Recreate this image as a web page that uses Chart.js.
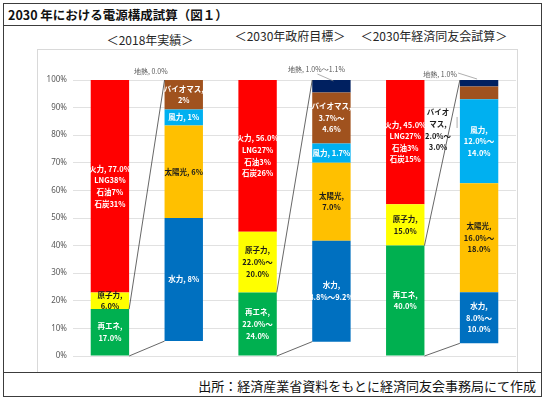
<!DOCTYPE html>
<html>
<head>
<meta charset="utf-8">
<script src="https://cdn.jsdelivr.net/npm/chart.js@4.4.1/dist/chart.umd.min.js"></script>
<style>
  body { margin: 0; background: #fff; font-family: "Noto Sans CJK JP", sans-serif; }
  #page { position: relative; width: 545px; height: 399px; overflow: hidden; background: #fff; }
  .abs { position: absolute; box-sizing: border-box; }
  #frame { left: 3px; top: 3px; width: 539px; height: 394px; border: 1.5px solid #3c3c3c; }
  #titleLine { left: 3px; top: 25px; width: 539px; height: 0; border-top: 1.5px solid #3c3c3c; }
  #footLine { left: 3px; top: 372px; width: 539px; height: 0; border-top: 1.5px solid #3c3c3c; }
  #inner { left: 37px; top: 49px; width: 481px; height: 323px; border: 1px solid #d9d9d9; border-bottom: none; }
  #title { left: 8px; top: 5px; font-size: 12.5px; font-weight: bold; color: #111; white-space: nowrap; }
  .sub { font-size: 12px; color: #262626; white-space: nowrap; transform: translateX(-50%); }
  #foot { right: 9px; top: 376px; font-size: 13px; color: #111; white-space: nowrap; }
  canvas { position: absolute; left: 0; top: 0; }
</style>
</head>
<body>
<div id="page">
  <div class="abs" id="frame"></div>
  <div class="abs" id="titleLine"></div>
  <div class="abs" id="footLine"></div>
  <div class="abs" id="inner"></div>
  <div class="abs" id="title">2030 年における電源構成試算（図１）</div>
  <div class="abs sub" style="left:150px;top:31px;">＜2018年実績＞</div>
  <div class="abs sub" style="left:290px;top:27px;">＜2030年政府目標＞</div>
  <div class="abs sub" style="left:434px;top:27px;">＜2030年経済同友会試算＞</div>
  <div class="abs" id="foot">出所：経済産業省資料をもとに経済同友会事務局にて作成</div>
  <canvas id="chart" width="545" height="399"></canvas>
</div>
<script>
// six columns: main mix bar, then its renewables breakdown bar, for each scenario
const categories = ['2018年実績', '2018年 再エネ内訳', '2030年政府目標', '2030年 再エネ内訳', '2030年経済同友会試算', '2030年 再エネ内訳'];

// main bars (% of generation)
const renew   = [17, null, 23, null, 40, null];
const nuclear = [6, null, 22, null, 15, null];
const thermal = [77, null, 55, null, 45, null];

// breakdown bars, heights as drawn on the 0-100 axis (offset + segments)
const offset  = [null, 5.4, null, 5.2, null, 4.6];
const hydro   = [null, 44.6, null, 36.6, null, 18.5];
const solar   = [null, 33.5, null, 28.2, null, 39.5];
const wind    = [null, 5.8, null, 7.0, null, 30.4];
const biomass = [null, 10.7, null, 18.5, null, 4.6];
const geo     = [null, 0, null, 4.5, null, 2.4];

const yTicks = [0, 10, 20, 30, 40, 50, 60, 70, 80, 90, 100];

// segment label texts
const renewText   = [['再エネ,', '17.0%'], null, ['再エネ,', '22.0%～', '24.0%'], null, ['再エネ,', '40.0%'], null];
const nuclearText = [['原子力,', '6.0%'], null, ['原子力,', '22.0%～', '20.0%'], null, ['原子力,', '15.0%'], null];
const thermalText = [['火力, 77.0%', 'LNG38%', '石油7%', '石炭31%'], null, ['火力, 56.0%', 'LNG27%', '石油3%', '石炭26%'], null, ['火力, 45.0%', 'LNG27%', '石油3%', '石炭15%'], null];
const hydroText   = [null, ['水力, 8%'], null, ['水力,', '8.8%～9.2%'], null, ['水力,', '8.0%～', '10.0%']];
const solarText   = [null, ['太陽光, 6%'], null, ['太陽光,', '7.0%'], null, ['太陽光,', '16.0%～', '18.0%']];
const windText    = [null, ['風力, 1%'], null, ['風力, 1.7%'], null, ['風力,', '12.0%～', '14.0%']];
const biomassText = [null, ['バイオマス,', '2%'], null, ['バイオマス,', '3.7%～', '4.6%'], null, ['バイオ', 'マス,', '2.0%～', '3.0%']];
const geoText     = [null, ['地熱, 0.0%'], null, ['地熱, 1.0%～1.1%'], null, ['地熱, 1.0%']];

// labels drawn outside their segment: offsets from the segment centre / top, and leader lines
const outside = {
  '地熱': {
    1: { dx: -33, fromTop: -9, color: '#595959', font: '7px' },
    3: { dx: -15, fromTop: -11, color: '#595959', font: '7px', leader: [[-14, -6], [2, 1]] },
    5: { dx: -39, fromTop: -6, color: '#595959', font: '7px', leader: [[-21, -7], [-2, -1]] }
  },
  'バイオマス': {
    5: { dx: -41, dy: 37, color: '#1a1a1a', leaderMid: [[-22, 24], [-22, 35]] }
  }
};

const segLabels = {
  id: 'segLabels',
  afterDatasetsDraw(chart) {
    const ctx = chart.ctx;
    const metas = chart.data.datasets.map((d, i) => chart.getDatasetMeta(i));
    const byLabel = {};
    chart.data.datasets.forEach((d, i) => byLabel[d.label] = metas[i]);
    const yScale = chart.scales.y;

    // connector lines from the renewables part of each main bar to its breakdown bar
    ctx.save();
    ctx.strokeStyle = '#404040';
    ctx.lineWidth = 0.8;
    [0, 2, 4].forEach(i => {
      const g = byLabel['再エネ'].data[i];
      const off = byLabel['offset'].data[i + 1];
      const top = byLabel['地熱'].data[i + 1];
      const gx = g.x + g.width / 2, bx = off.x - off.width / 2;
      ctx.beginPath();
      ctx.moveTo(gx, g.y); ctx.lineTo(bx, top.y);
      ctx.moveTo(gx, yScale.getPixelForValue(0)); ctx.lineTo(bx, off.y);
      ctx.stroke();
    });
    ctx.restore();

    chart.data.datasets.forEach((ds, di) => {
      if (!ds.texts) return;
      metas[di].data.forEach((el, j) => {
        const lines = ds.texts[j];
        if (!lines) return;
        const o = (outside[ds.label] || {})[j];
        let cx = el.x, cy = (el.y + el.base) / 2, color = ds.textColor, size = '7.5px';
        if (o) {
          cx = el.x + o.dx;
          cy = o.fromTop !== undefined ? el.y + o.fromTop : cy + o.dy;
          color = o.color;
          if (o.font) size = o.font;
          ctx.save();
          ctx.strokeStyle = '#8c8c8c';
          ctx.lineWidth = 0.7;
          if (o.leader) {
            ctx.beginPath();
            ctx.moveTo(el.x + o.leader[0][0], el.y + o.leader[0][1]);
            ctx.lineTo(el.x + o.leader[1][0], el.y + o.leader[1][1]);
            ctx.stroke();
          }
          if (o.leaderMid) {
            const my = (el.y + el.base) / 2;
            ctx.beginPath();
            ctx.moveTo(el.x + o.leaderMid[0][0], my + o.leaderMid[0][1]);
            ctx.lineTo(el.x + o.leaderMid[1][0], my + o.leaderMid[1][1]);
            ctx.stroke();
          }
          ctx.restore();
        }
        ctx.save();
        ctx.fillStyle = color;
        ctx.font = (o && o.font ? '' : 'bold ') + size + ' "Noto Sans CJK JP", sans-serif';
        ctx.textAlign = 'center';
        ctx.textBaseline = 'middle';
        const lh = 11.6;
        lines.forEach((t, k) => ctx.fillText(t, cx, cy + (k - (lines.length - 1) / 2) * lh));
        ctx.restore();
      });
    });
  }
};

const ds = (label, data, color, texts, textColor) => ({ label, data, backgroundColor: color, texts, textColor, borderWidth: 0 });

new Chart(document.getElementById('chart'), {
  type: 'bar',
  data: {
    labels: categories,
    datasets: [
      ds('offset', offset, 'rgba(0,0,0,0)', null, null),
      ds('再エネ', renew, '#00B050', renewText, '#ffffff'),
      ds('原子力', nuclear, '#FFFF00', nuclearText, '#1a1a1a'),
      ds('火力', thermal, '#FF0000', thermalText, '#ffffff'),
      ds('水力', hydro, '#0070C0', hydroText, '#ffffff'),
      ds('太陽光', solar, '#FFC000', solarText, '#1a1a1a'),
      ds('風力', wind, '#00B0F0', windText, '#ffffff'),
      ds('バイオマス', biomass, '#A0521E', biomassText, '#ffffff'),
      ds('地熱', geo, '#002060', geoText, '#ffffff')
    ]
  },
  options: {
    responsive: false,
    animation: false,
    barPercentage: 0.52,
    categoryPercentage: 1,
    layout: { padding: { top: 80, bottom: 43, left: 0, right: 29 } },
    plugins: { legend: { display: false }, tooltip: { enabled: false } },
    scales: {
      x: { display: false, stacked: true },
      y: {
        stacked: true, min: 0, max: 100,
        afterBuildTicks(s) { s.ticks = yTicks.map(v => ({ value: v })); },
        afterFit(s) { s.width = 73; },
        ticks: { callback: v => v + '%', padding: 6, color: '#595959', font: { size: 8, family: '"Noto Sans", sans-serif' } },
        grid: { color: '#d9d9d9', lineWidth: 0.8, drawTicks: false },
        border: { display: false }
      }
    }
  },
  plugins: [segLabels]
});
</script>
</body>
</html>
